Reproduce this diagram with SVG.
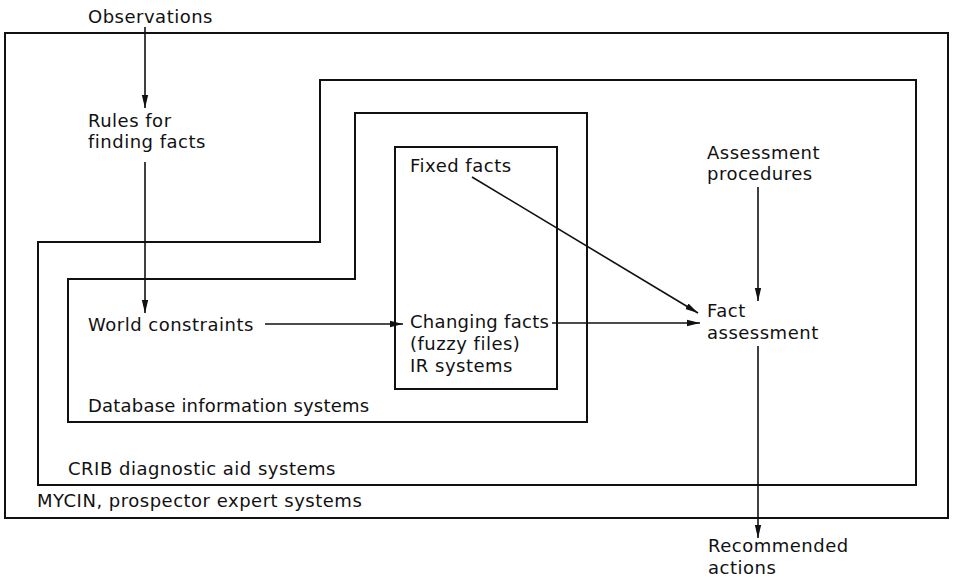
<svg xmlns="http://www.w3.org/2000/svg" width="953" height="577" viewBox="0 0 953 577">
  <style>
    .frame { fill: none; stroke: #111; stroke-width: 2; stroke-linejoin: miter; }
    .link { fill: none; stroke: #111; stroke-width: 1.6; }
    text { font-family: "DejaVu Sans", "Liberation Sans", sans-serif; font-size: 18px; letter-spacing: 0.5px; fill: #111; }
  </style>
  <defs>
    <marker id="arrow" markerUnits="userSpaceOnUse" markerWidth="14" markerHeight="10" viewBox="0 0 14 10" refX="13" refY="5" orient="auto">
      <path d="M0,1.8 L13,5 L0,8.2 Z" fill="#111"/>
    </marker>
  </defs>
  <rect width="953" height="577" fill="#fff"/>

  <!-- nested system boundaries -->
  <g id="mycin">
    <rect class="frame" x="5" y="33" width="943" height="485"/>
    <text x="37" y="507">MYCIN, prospector expert systems</text>
  </g>
  <g id="crib">
    <polygon class="frame" points="320,80 916,80 916,485 38,485 38,242 320,242"/>
    <text x="68" y="475">CRIB diagnostic aid systems</text>
  </g>
  <g id="database">
    <polygon class="frame" points="355,113 587,113 587,422 68,422 68,279 355,279"/>
    <text x="88" y="412" style="letter-spacing:0.2px">Database information systems</text>
  </g>
  <g id="facts-store">
    <rect class="frame" x="395" y="147" width="162" height="242"/>
  </g>

  <!-- labelled items -->
  <g id="observations"><text x="88" y="23">Observations</text></g>
  <g id="rules">
    <text x="88" y="127">Rules for</text>
    <text x="88" y="148">finding facts</text>
  </g>
  <g id="world-constraints"><text x="88" y="331">World constraints</text></g>
  <g id="fixed-facts"><text x="410" y="172">Fixed facts</text></g>
  <g id="changing-facts">
    <text x="410" y="328" style="letter-spacing:0.3px">Changing facts</text>
    <text x="410" y="350">(fuzzy files)</text>
    <text x="410" y="372">IR systems</text>
  </g>
  <g id="assessment-procedures">
    <text x="707" y="159">Assessment</text>
    <text x="707" y="180">procedures</text>
  </g>
  <g id="fact-assessment">
    <text x="707" y="317">Fact</text>
    <text x="707" y="339">assessment</text>
  </g>
  <g id="recommended-actions">
    <text x="708" y="552">Recommended</text>
    <text x="708" y="574">actions</text>
  </g>

  <!-- connectors -->
  <g id="connectors">
    <line class="link" x1="145" y1="27" x2="145" y2="108" marker-end="url(#arrow)"/>
    <line class="link" x1="145" y1="162" x2="145" y2="313" marker-end="url(#arrow)"/>
    <line class="link" x1="265" y1="324" x2="403" y2="324" marker-end="url(#arrow)"/>
    <line class="link" x1="552" y1="323" x2="700" y2="323" marker-end="url(#arrow)"/>
    <line class="link" x1="472" y1="177" x2="698" y2="313" marker-end="url(#arrow)"/>
    <line class="link" x1="758" y1="187" x2="758" y2="301" marker-end="url(#arrow)"/>
    <line class="link" x1="758" y1="346" x2="758" y2="538" marker-end="url(#arrow)"/>
  </g>
</svg>
